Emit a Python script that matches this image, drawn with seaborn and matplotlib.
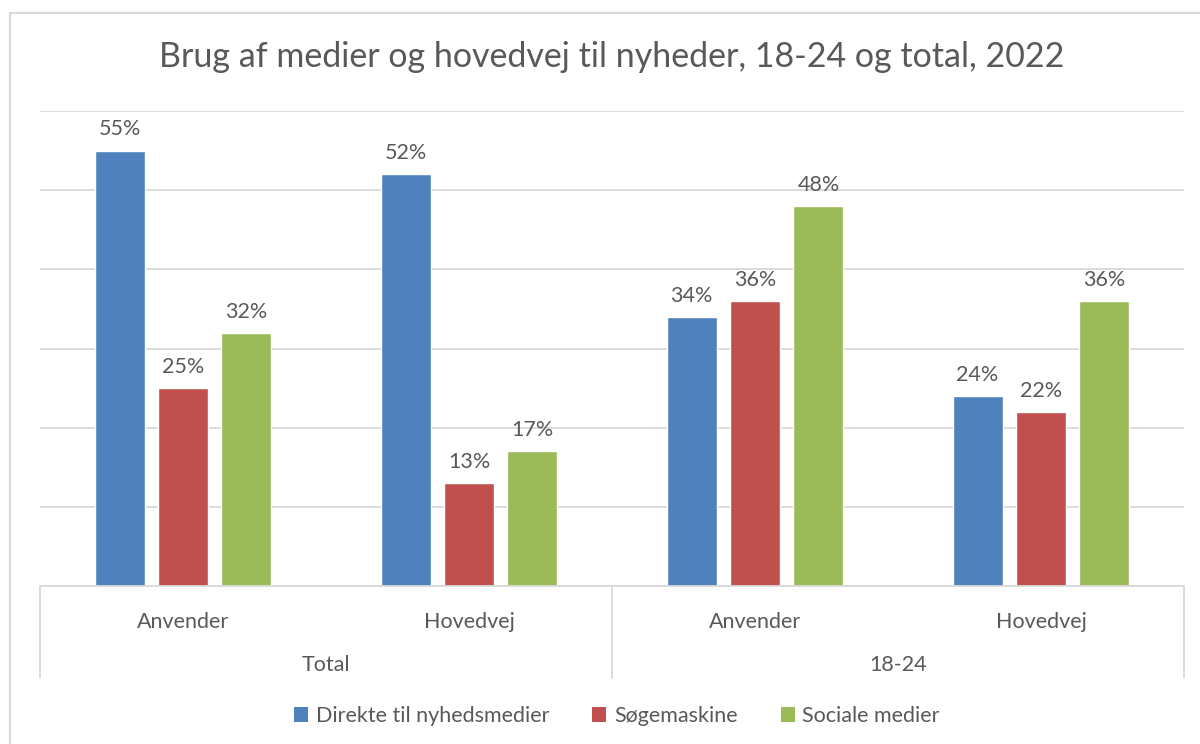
import pandas as pd
import matplotlib
matplotlib.use("Agg")
import matplotlib.pyplot as plt
import matplotlib.transforms as mtransforms
from matplotlib.patches import Rectangle, Patch
import seaborn as sns

title = "Brug af medier og hovedvej til nyheder, 18-24 og total, 2022"
groups = ["Total", "Total", "18-24", "18-24"]
subcats = ["Anvender", "Hovedvej", "Anvender", "Hovedvej"]
series = ["Direkte til nyhedsmedier", "Søgemaskine", "Sociale medier"]
direkte = [55, 52, 34, 24]
soege = [25, 13, 36, 22]
sociale = [32, 17, 48, 36]
colors = ["#4F81BD", "#C0504D", "#9BBB59"]

text_color = "#595959"
grid_color = "#D9D9D9"

keys = [g + " " + s for g, s in zip(groups, subcats)]
rows = []
for name, vals in zip(series, [direkte, soege, sociale]):
    for k, v in zip(keys, vals):
        rows.append({"kategori": k, "serie": name, "andel": v})
df = pd.DataFrame(rows)

sns.set_theme(style="white")
plt.rcParams["font.family"] = ["Lato", "DejaVu Sans"]

fig = plt.figure(figsize=(12, 7.44), dpi=100)
ax = fig.add_axes([40 / 1200, 1 - 586 / 744, (1184 - 40) / 1200, (586 - 111) / 744])

sns.barplot(data=df, x="kategori", y="andel", hue="serie", order=keys,
            hue_order=series, palette=colors, width=0.665, gap=0.21,
            saturation=1, ax=ax, legend=False)

for c in ax.containers:
    ax.bar_label(c, fmt="%d%%", padding=8, fontsize=15.5, color=text_color)

ax.set_ylim(0, 60)
ax.set_xlim(-0.5, 3.5)
ax.set_yticks(range(0, 61, 10))
ax.yaxis.grid(True, color=grid_color, linewidth=1.3)
ax.set_axisbelow(True)
ax.tick_params(left=False, labelleft=False, bottom=False)
for side in ["left", "right", "top"]:
    ax.spines[side].set_visible(False)
ax.spines["bottom"].set_color(grid_color)
ax.spines["bottom"].set_linewidth(1.3)
ax.set_xlabel("")
ax.set_ylabel("")
ax.set_xticks(range(len(keys)))
ax.set_xticklabels(subcats, fontsize=15.5, color=text_color)
ax.tick_params(axis="x", pad=13)

# multi-level category axis
trans = mtransforms.blended_transform_factory(ax.transData, ax.transAxes)
for xpos in [-0.5, 1.5, 3.5]:
    ax.plot([xpos, xpos], [0, -92 / 475], transform=trans, color=grid_color,
            linewidth=1.3, clip_on=False)
for xpos, label in [(0.5, "Total"), (2.5, "18-24")]:
    ax.text(xpos, -79 / 475, label, transform=trans, ha="center", va="center",
            fontsize=15.5, color=text_color)

fig.text(612 / 1200, 1 - 57 / 744, title, ha="center", va="center",
         fontsize=24.5, color=text_color)

handles = [Patch(facecolor=c, edgecolor="none") for c in colors]
fig.legend(handles, series, loc="center", bbox_to_anchor=(617 / 1200, 1 - 716 / 744),
           ncol=3, frameon=False, fontsize=15.5, handlelength=0.65, handleheight=0.65,
           handletextpad=0.35, columnspacing=2.0, labelcolor=text_color)

fig.patches.append(Rectangle((10 / 1200, -0.05), 1.1, 1 - 13 / 744 + 0.05,
                             transform=fig.transFigure, fill=False,
                             edgecolor=grid_color, linewidth=1.5))

fig.savefig("out.png", dpi=100)
